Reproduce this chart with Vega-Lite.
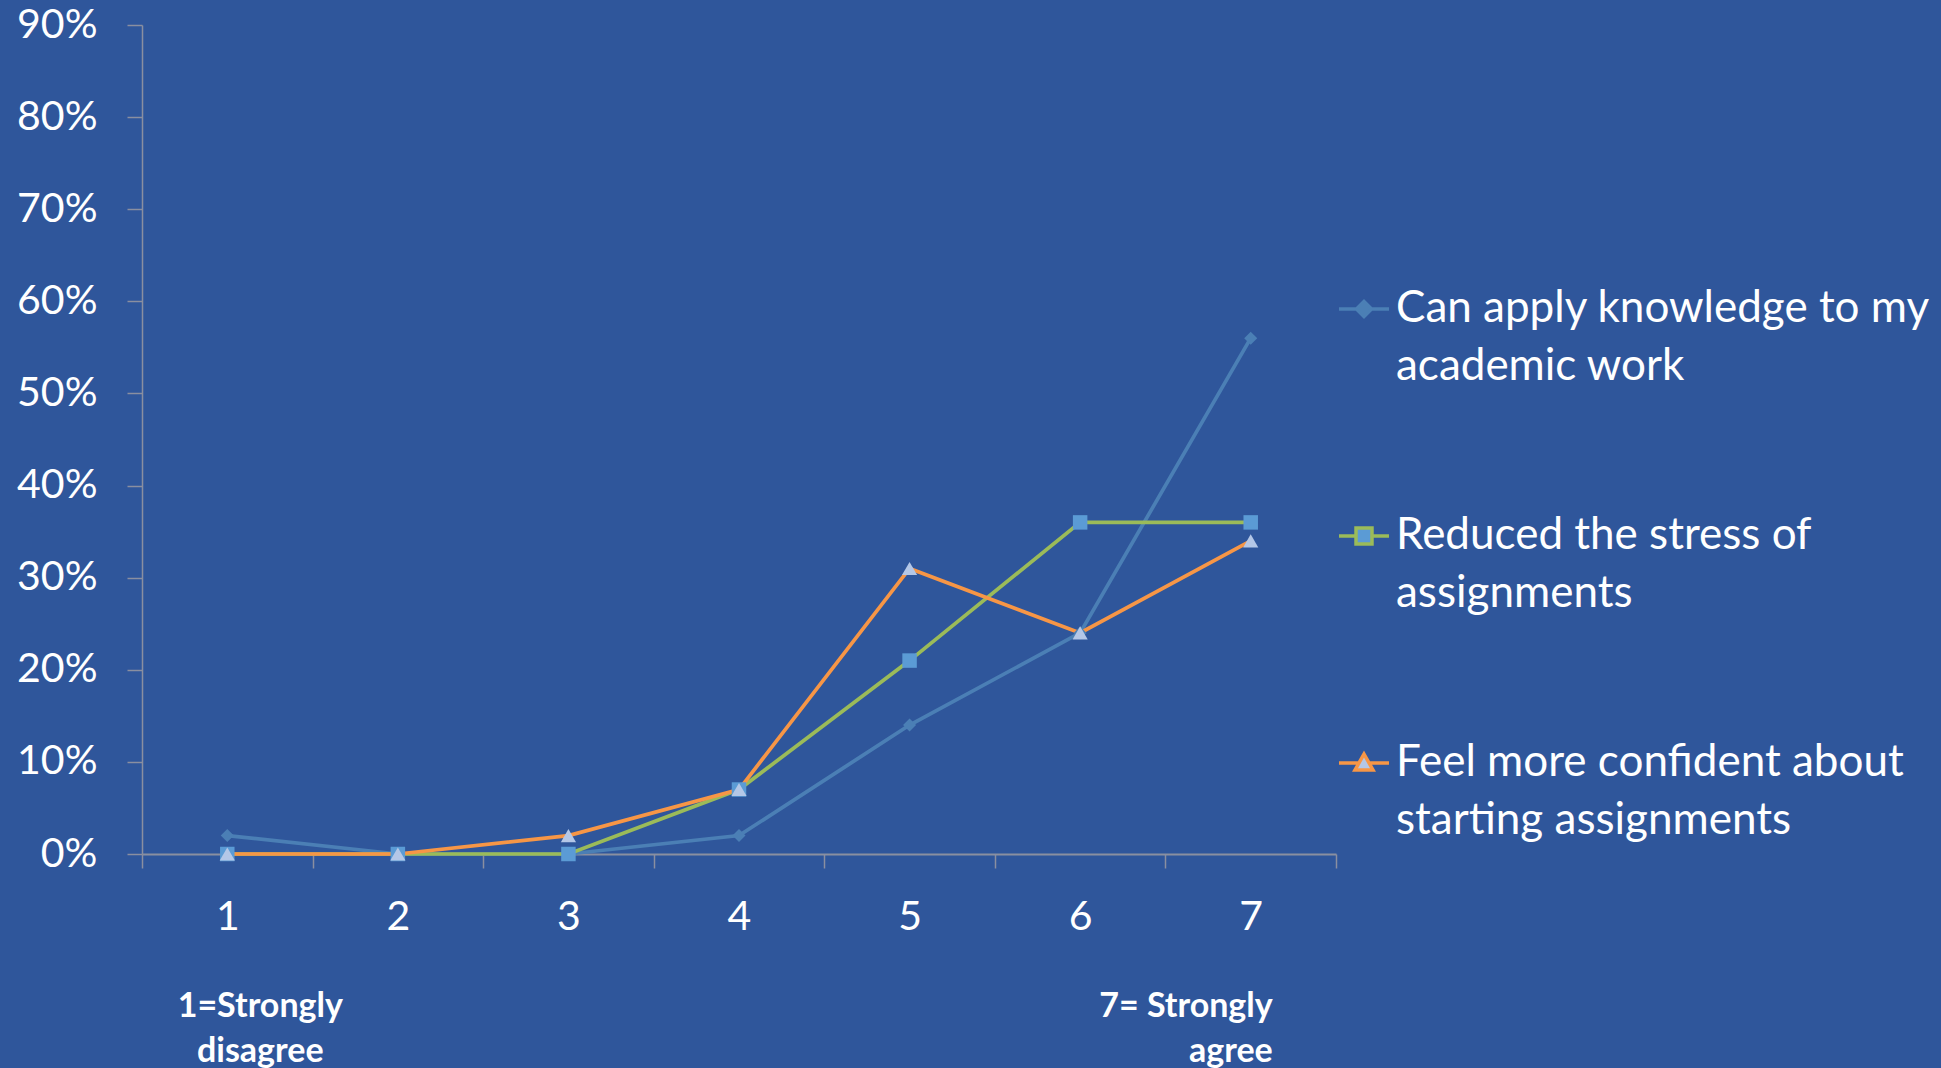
{
  "$schema": "https://vega.github.io/schema/vega-lite/v6.json",
  "width": 1194,
  "height": 829,
  "autosize": {"type": "none"},
  "padding": {"left": 142, "top": 25, "right": 605, "bottom": 214},
  "background": "#2f569b",
  "config": {
    "view": {"stroke": null},
    "font": "Lato",
    "axis": {"labelFont": "Lato", "labelColor": "#ffffff", "labelFontSize": 41, "domainColor": "#8a8fa0", "tickColor": "#8a8fa0", "grid": false, "title": null}
  },
  "datasets": {
    "survey": [
      {"rating": 1, "series": "Can apply knowledge to my academic work", "pct": 0.02},
      {"rating": 2, "series": "Can apply knowledge to my academic work", "pct": 0.0},
      {"rating": 3, "series": "Can apply knowledge to my academic work", "pct": 0.0},
      {"rating": 4, "series": "Can apply knowledge to my academic work", "pct": 0.02},
      {"rating": 5, "series": "Can apply knowledge to my academic work", "pct": 0.14},
      {"rating": 6, "series": "Can apply knowledge to my academic work", "pct": 0.24},
      {"rating": 7, "series": "Can apply knowledge to my academic work", "pct": 0.56},
      {"rating": 1, "series": "Reduced the stress of assignments", "pct": 0.0},
      {"rating": 2, "series": "Reduced the stress of assignments", "pct": 0.0},
      {"rating": 3, "series": "Reduced the stress of assignments", "pct": 0.0},
      {"rating": 4, "series": "Reduced the stress of assignments", "pct": 0.07},
      {"rating": 5, "series": "Reduced the stress of assignments", "pct": 0.21},
      {"rating": 6, "series": "Reduced the stress of assignments", "pct": 0.36},
      {"rating": 7, "series": "Reduced the stress of assignments", "pct": 0.36},
      {"rating": 1, "series": "Feel more confident about starting assignments", "pct": 0.0},
      {"rating": 2, "series": "Feel more confident about starting assignments", "pct": 0.0},
      {"rating": 3, "series": "Feel more confident about starting assignments", "pct": 0.02},
      {"rating": 4, "series": "Feel more confident about starting assignments", "pct": 0.07},
      {"rating": 5, "series": "Feel more confident about starting assignments", "pct": 0.31},
      {"rating": 6, "series": "Feel more confident about starting assignments", "pct": 0.24},
      {"rating": 7, "series": "Feel more confident about starting assignments", "pct": 0.34}
    ],
    "notes": [
      {"rating": 1, "note": "1=Strongly\ndisagree"},
      {"rating": 7, "note": "7= Strongly\nagree"}
    ]
  },
  "encoding": {
    "x": {
      "field": "rating", "type": "ordinal", "bandPosition": 0.5,
      "scale": {"type": "band", "paddingInner": 0, "paddingOuter": 0},
      "axis": {"labelAngle": 0, "tickBand": "extent", "tickSize": 14, "labelPadding": 29, "domainWidth": 2, "tickWidth": 1.5}
    }
  },
  "layer": [
    {
      "data": {"name": "survey"},
      "encoding": {
        "y": {
          "field": "pct", "type": "quantitative",
          "scale": {"domain": [0, 0.9], "nice": false, "zero": true},
          "axis": {"values": [0, 0.1, 0.2, 0.3, 0.4, 0.5, 0.6, 0.7, 0.8, 0.9], "format": ".0%", "tickSize": 15, "labelPadding": 30, "domainWidth": 1.5, "tickWidth": 1.5}
        }
      },
      "layer": [
        {
          "mark": {"type": "line", "strokeWidth": 3.7},
          "encoding": {
            "stroke": {
              "field": "series", "type": "nominal",
              "scale": {
                "domain": ["Can apply knowledge to my academic work", "Reduced the stress of assignments", "Feel more confident about starting assignments"],
                "range": ["#4b7fb5", "#9bbb59", "#f79646"]
              },
              "legend": {
                "title": null,
                "orient": "none",
                "legendX": 1195,
                "legendY": 257,
                "direction": "vertical",
                "symbolSize": 2500,
                "symbolStrokeWidth": 3.5,
                "labelFont": "Lato",
                "labelFontSize": 44,
                "labelColor": "#ffffff",
                "labelLimit": 700,
                "labelOffset": 5,
                "labelBaseline": "middle",
                "rowPadding": 120,
                "labelExpr": "datum.label === 'Can apply knowledge to my academic work' ? ['Can apply knowledge to my', 'academic work'] : datum.label === 'Reduced the stress of assignments' ? ['Reduced the stress of', 'assignments'] : ['Feel more confident about', 'starting assignments']",
                "encode": {
                  "symbols": {
                    "update": {
                      "fill": {"signal": "datum.value === 'Can apply knowledge to my academic work' ? '#4b7fb5' : datum.value === 'Reduced the stress of assignments' ? '#5b9bd5' : '#b4c7e7'"},
                      "fillOpacity": {"value": 1},
                      "shape": {"signal": "datum.value === 'Can apply knowledge to my academic work' ? 'M-1,0H-0.3M0.3,0H1M0,-0.3L0.3,0L0,0.3L-0.3,0Z' : datum.value === 'Reduced the stress of assignments' ? 'M-1,0H-0.34M0.34,0H1M-0.32,-0.32H0.32V0.32H-0.32Z' : 'M-1,0H-0.2M0.2,0H1M0,-0.36L0.36,0.28L-0.36,0.28Z'"}
                    }
                  },
                  "labels": {
                    "update": {"lineHeight": {"value": 58}}
                  }
                }
              }
            }
          }
        },
        {
          "transform": [{"filter": {"field": "series", "equal": "Can apply knowledge to my academic work"}}],
          "mark": {"type": "point", "filled": true, "opacity": 1, "size": 170, "shape": "diamond", "color": "#4b7fb5"}
        },
        {
          "transform": [{"filter": {"field": "series", "equal": "Reduced the stress of assignments"}}],
          "mark": {"type": "point", "filled": true, "opacity": 1, "size": 210, "shape": "square", "color": "#5b9bd5"}
        },
        {
          "transform": [{"filter": {"field": "series", "equal": "Feel more confident about starting assignments"}}],
          "mark": {"type": "point", "filled": true, "opacity": 1, "size": 230, "shape": "triangle-up", "color": "#b4c7e7"}
        }
      ]
    },
    {
      "data": {"name": "notes"},
      "transform": [{"filter": {"field": "rating", "equal": 1}}],
      "mark": {"type": "text", "font": "Lato", "fontWeight": "bold", "fontSize": 34, "color": "#ffffff", "align": "center", "baseline": "middle", "lineBreak": "\n", "lineHeight": 45, "dx": 33},
      "encoding": {
        "y": {"datum": -0.166, "type": "quantitative"},
        "text": {"field": "note", "type": "nominal"}
      }
    },
    {
      "data": {"name": "notes"},
      "transform": [{"filter": {"field": "rating", "equal": 7}}],
      "mark": {"type": "text", "font": "Lato", "fontWeight": "bold", "fontSize": 34, "color": "#ffffff", "align": "right", "baseline": "middle", "lineBreak": "\n", "lineHeight": 45, "dx": 22},
      "encoding": {
        "y": {"datum": -0.166, "type": "quantitative"},
        "text": {"field": "note", "type": "nominal"}
      }
    }
  ]
}
